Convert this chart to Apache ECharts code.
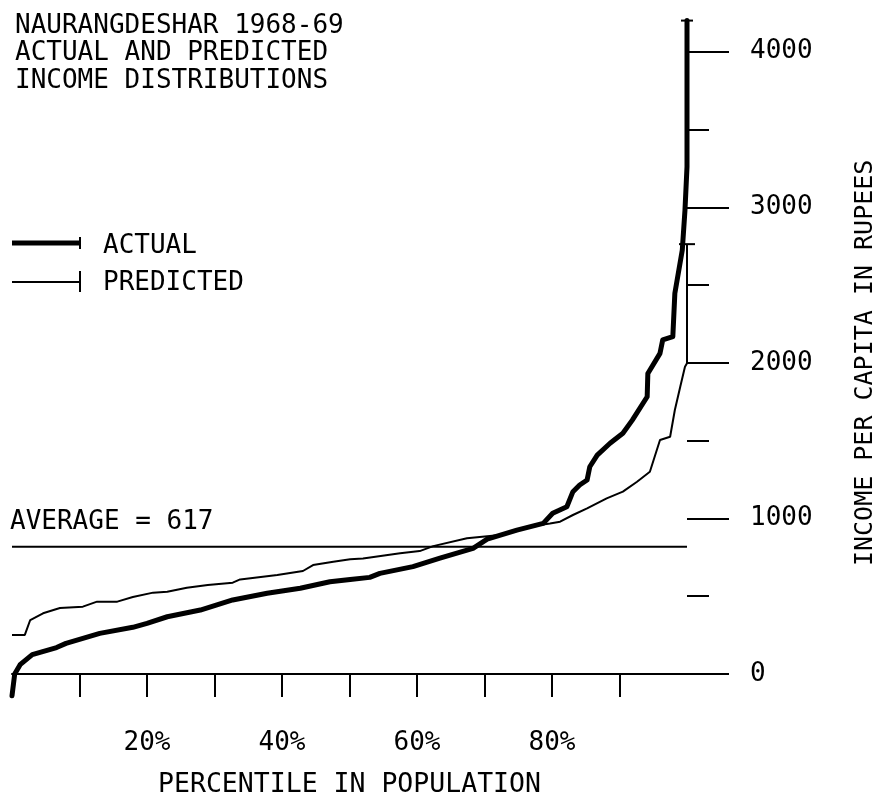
<!DOCTYPE html>
<html>
<head>
<meta charset="utf-8">
<script src="https://cdn.jsdelivr.net/npm/echarts@6/dist/echarts.min.js"></script>
<style>html,body{margin:0;padding:0;background:#fff;}#chart{width:895px;height:808px;}</style>
</head>
<body>
<div id="chart"></div>
<script>
// ---- data ----
const titleLines = ['NAURANGDESHAR 1968-69', 'ACTUAL AND PREDICTED', 'INCOME DISTRIBUTIONS'];
const xAxisName = 'PERCENTILE IN POPULATION';
const yAxisName = 'INCOME PER CAPITA IN RUPEES';
const xTickValues = [10, 20, 30, 40, 50, 60, 70, 80, 90];
const xLabelValues = [20, 40, 60, 80];
const yLabelValues = [0, 1000, 2000, 3000, 4000];
const averageValue = 818;
const averageLabel = 'AVERAGE = 617';

const actualX = [0, 0.4, 1.2, 3.0, 6.6, 8.0, 13.0, 17.9, 20.0, 23.0, 27.9, 32.7, 37.8, 42.7, 47.1, 50.1, 53.0, 54.5, 59.4, 63.4, 68.3, 70.4, 74.8, 78.7, 80.1, 82.2, 83.1, 84.1, 85.2, 85.6, 86.7, 88.6, 90.5, 91.9, 94.1, 94.2, 96.0, 96.4, 97.9, 98.2, 99.3, 99.7, 100, 100];
const actualY = [-140, 0, 60, 125, 170, 197, 261, 300, 326, 368, 411, 476, 519, 551, 593, 608, 621, 647, 690, 745, 808, 867, 925, 968, 1033, 1075, 1172, 1215, 1247, 1332, 1407, 1483, 1547, 1632, 1782, 1932, 2061, 2147, 2168, 2447, 2725, 2982, 3260, 4200];

const predX = [0, 1.9, 2.7, 4.6, 7.1, 10.5, 12.6, 15.6, 17.9, 20.9, 23.0, 25.9, 29.0, 32.7, 33.8, 39.3, 43.1, 44.6, 47.6, 50.1, 52.0, 57.5, 60.4, 62.4, 67.4, 72.3, 77.2, 79.7, 81.2, 83.1, 85.2, 88.1, 90.5, 92.6, 94.5, 96.0, 97.5, 98.2, 99.0, 99.7, 100, 100];
const predY = [251, 251, 347, 390, 424, 433, 465, 465, 495, 523, 529, 555, 572, 587, 608, 636, 662, 700, 722, 737, 743, 776, 790, 822, 872, 893, 951, 968, 979, 1022, 1065, 1129, 1172, 1236, 1300, 1504, 1525, 1697, 1846, 1975, 1997, 2763];

// ---- build ----
const FONT = 'DejaVu Sans Mono';
const FONTCSS = '26px "' + FONT + '"';
function pairs(xs, ys, barW) {
  return xs.map((x, i) => {
    if (i === xs.length - 1) {
      return { value: [x, ys[i]], symbol: 'rect', symbolSize: [barW, 2] };
    }
    return [x, ys[i]];
  });
}

const chart = echarts.init(document.getElementById('chart'), null, { renderer: 'canvas' });
const txt = { fontFamily: FONT, fontSize: 26, color: '#000', fontWeight: 'normal' };

chart.setOption({
  backgroundColor: '#fff',
  animation: false,
  title: {
    text: titleLines.join('\n'),
    left: 10, top: 7,
    textStyle: Object.assign({}, txt, { lineHeight: 27.5 })
  },
  grid: { left: 12, right: 208, top: 51.7, bottom: 134 },
  xAxis: {
    type: 'value', min: 0, max: 100, interval: 10,
    name: xAxisName, nameLocation: 'middle', nameGap: 98,
    nameTextStyle: Object.assign({}, txt, { fontSize: 26.5 }),
    axisLine: { show: true, onZero: false, lineStyle: { color: '#000', width: 2 } },
    axisTick: { show: true, customValues: xTickValues, length: 23, lineStyle: { color: '#000', width: 2 } },
    axisLabel: { customValues: xLabelValues, formatter: '{value}%', margin: 56, fontFamily: FONT, fontSize: 26, color: '#000', lineHeight: 26 },
    splitLine: { show: false }
  },
  yAxis: {
    type: 'value', position: 'right', min: 0, max: 4000, interval: 1000,
    name: yAxisName, nameLocation: 'middle', nameRotate: 90, nameGap: 166,
    nameTextStyle: Object.assign({}, txt, { fontSize: 25 }),
    axisLine: { show: false, onZero: false },
    axisTick: { show: true, length: 42, lineStyle: { color: '#000', width: 2 } },
    minorTick: { show: true, splitNumber: 2, length: 22, lineStyle: { color: '#000', width: 2 } },
    axisLabel: { customValues: yLabelValues, formatter: v => String(v), margin: 63, padding: [7, 0, 0, 0], fontFamily: FONT, fontSize: 26, color: '#000' },
    splitLine: { show: false },
    minorSplitLine: { show: false }
  },
  series: [
    {
      name: 'AVERAGE', type: 'line', symbol: 'none', silent: true,
      data: [[0, averageValue], [100, averageValue]],
      lineStyle: { color: '#000', width: 2 }
    },
    {
      name: 'PREDICTED', type: 'line', symbol: 'none', showSymbol: true, clip: false,
      data: pairs(predX, predY, 16),
      lineStyle: { color: '#000', width: 2 },
      itemStyle: { color: '#000' }
    },
    {
      name: 'ACTUAL', type: 'line', symbol: 'none', showSymbol: true, clip: false,
      data: pairs(actualX, actualY, 12),
      lineStyle: { color: '#000', width: 5, join: 'round', cap: 'round' },
      itemStyle: { color: '#000' }
    }
  ],
  graphic: [
    { type: 'line', shape: { x1: 12, y1: 243, x2: 80, y2: 243 }, style: { stroke: '#000', lineWidth: 5 } },
    { type: 'line', shape: { x1: 80, y1: 237, x2: 80, y2: 249 }, style: { stroke: '#000', lineWidth: 2 } },
    { type: 'text', left: 103, top: 233, style: { text: 'ACTUAL', font: FONTCSS, fill: '#000' } },
    { type: 'line', shape: { x1: 12, y1: 282, x2: 80, y2: 282 }, style: { stroke: '#000', lineWidth: 2 } },
    { type: 'line', shape: { x1: 80, y1: 271, x2: 80, y2: 292 }, style: { stroke: '#000', lineWidth: 2 } },
    { type: 'text', left: 103, top: 270, style: { text: 'PREDICTED', font: FONTCSS, fill: '#000' } },
    { type: 'text', left: 10, top: 509, style: { text: averageLabel, font: FONTCSS, fill: '#000' } }
  ]
});
</script>
</body>
</html>
